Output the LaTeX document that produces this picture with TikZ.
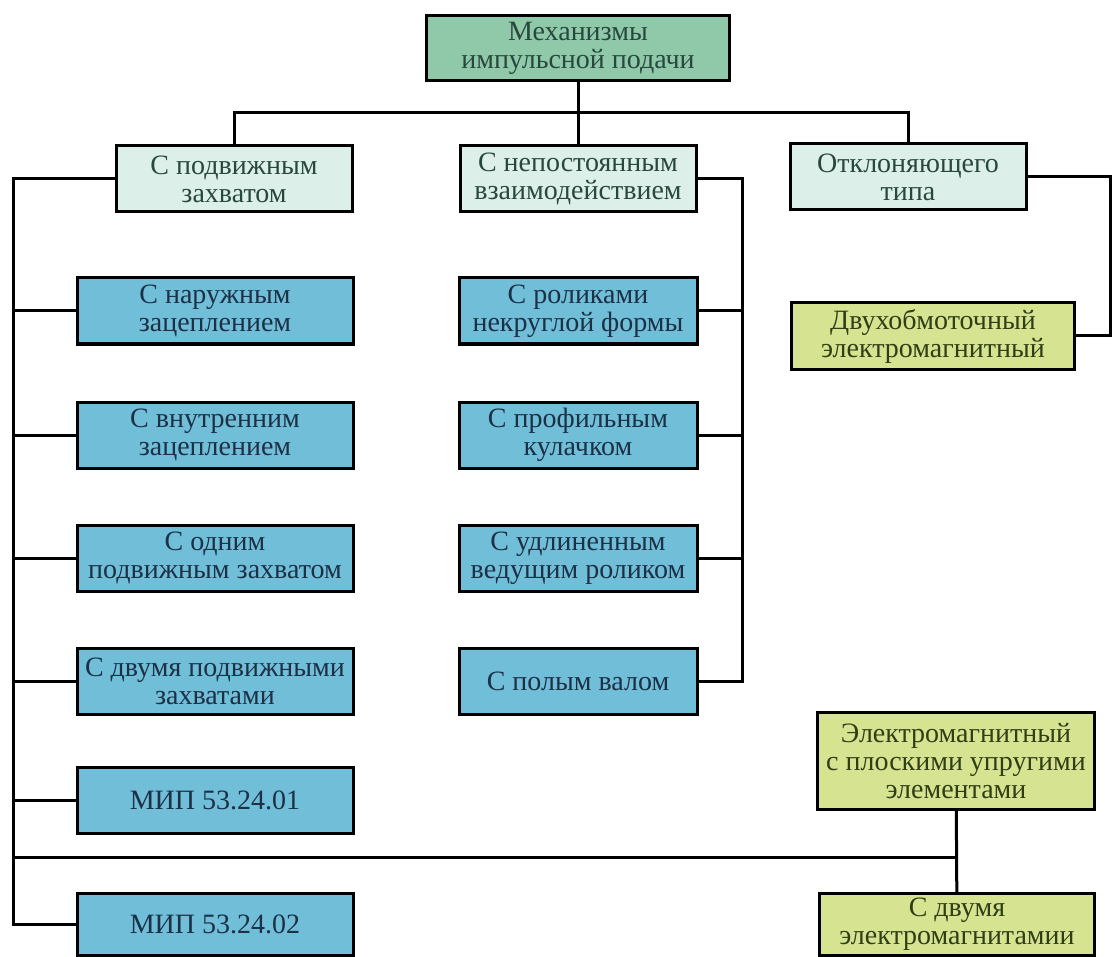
\documentclass[tikz,border=0pt]{standalone}
\usepackage{fontspec}
\setmainfont{Liberation Serif}
\usepackage{xcolor}
\usetikzlibrary{positioning}

\definecolor{rootfill}{RGB}{143,201,170}
\definecolor{kindfill}{RGB}{220,239,232}
\definecolor{typefill}{RGB}{112,190,216}
\definecolor{emfill}{RGB}{214,227,144}
\definecolor{rootink}{RGB}{40,72,62}
\definecolor{typeink}{RGB}{28,48,70}
\definecolor{emink}{RGB}{48,62,22}

\begin{document}
\begin{tikzpicture}[
    x=1pt, y=-1pt,
    box/.style={draw, line width=3pt, align=center, inner sep=0pt, font=\fontsize{28}{28}\selectfont},
    rootbox/.style={box, fill=rootfill, text=rootink, minimum width=303pt, minimum height=65pt},
    kindbox/.style={box, fill=kindfill, text=rootink, minimum width=236pt, minimum height=66pt},
    typebox/.style={box, fill=typefill, text=typeink, minimum height=66pt},
    embox/.style={box, fill=emfill, text=emink, minimum width=280pt, minimum height=66pt},
    link/.style={line width=3pt, line cap=rect}
  ]
    \useasboundingbox[fill=white] (0,0) rectangle (1113,957);

    % top and second level
    \node[rootbox] (root) at (578,48) {Механизмы\\импульсной подачи};
    \node[kindbox] (grip) at (234,179) {С подвижным\\захватом};
    \node[kindbox] (vary) at (578,179) {С непостоянным\\взаимодействием};
    \node[kindbox] (defl) at (908,177) {Отклоняющего\\типа};

    % mechanisms with a moving grip
    \node[typebox, minimum width=276pt] (outer) at (215,311) {С наружным\\зацеплением};
    \node[typebox, minimum width=276pt] (inner) at (215,435) {С внутренним\\зацеплением};
    \node[typebox, minimum width=276pt] (onegrip) at (215,558) {С одним\\подвижным захватом};
    \node[typebox, minimum width=276pt] (twogrip) at (215,681) {С двумя подвижными\\захватами};
    \node[typebox, minimum width=276pt] (mipone) at (215,800) {МИП 53.24.01};
    \node[typebox, minimum width=276pt, minimum height=62pt] (miptwo) at (215,924) {МИП 53.24.02};

    % mechanisms with varying contact
    \node[typebox, minimum width=238pt] (noncirc) at (578,311) {С роликами\\некруглой формы};
    \node[typebox, minimum width=238pt] (cam) at (578,435) {С профильным\\кулачком};
    \node[typebox, minimum width=238pt] (longroll) at (578,558) {С удлиненным\\ведущим роликом};
    \node[typebox, minimum width=238pt] (hollow) at (578,681) {С полым валом};

    % deflecting type
    \node[embox, minimum width=283pt, minimum height=67pt] (twowind) at (933,336) {Двухобмоточный\\электромагнитный};
    \node[embox, minimum width=277pt, minimum height=97pt] (flatem) at (956,761) {Электромагнитный\\с плоскими упругими\\элементами};
    \node[embox, minimum width=275pt, minimum height=62pt] (twoem) at (957,924) {С двумя\\электромагнитамии};

    \coordinate (bus) at (578,113);
    \coordinate (lspine) at (13,924);
    \coordinate (mspine) at (742,681);
    \coordinate (rspine) at (1110,336);
    \coordinate (bbus) at (956,857);

    \draw[link] (root) -- (vary);
    \draw[link] (grip.north) |- (bus) -| (defl.north);
    \draw[link] (grip.west) -| (lspine) -- (miptwo.west);
    \foreach \n in {outer,inner,onegrip,twogrip,mipone}
      \draw[link] (\n.west) -- (\n.west -| lspine);
    \draw[link] (vary.east) -| (mspine) -- (hollow.east);
    \foreach \n in {noncirc,cam,longroll}
      \draw[link] (\n.east) -- (\n.east -| mspine);
    \draw[link] (defl.east) -| (rspine) -- (twowind.east);
    \draw[link] (flatem) -- (twoem);
    \draw[link] (bbus) -- (bbus -| lspine);
  \end{tikzpicture}
\end{document}
